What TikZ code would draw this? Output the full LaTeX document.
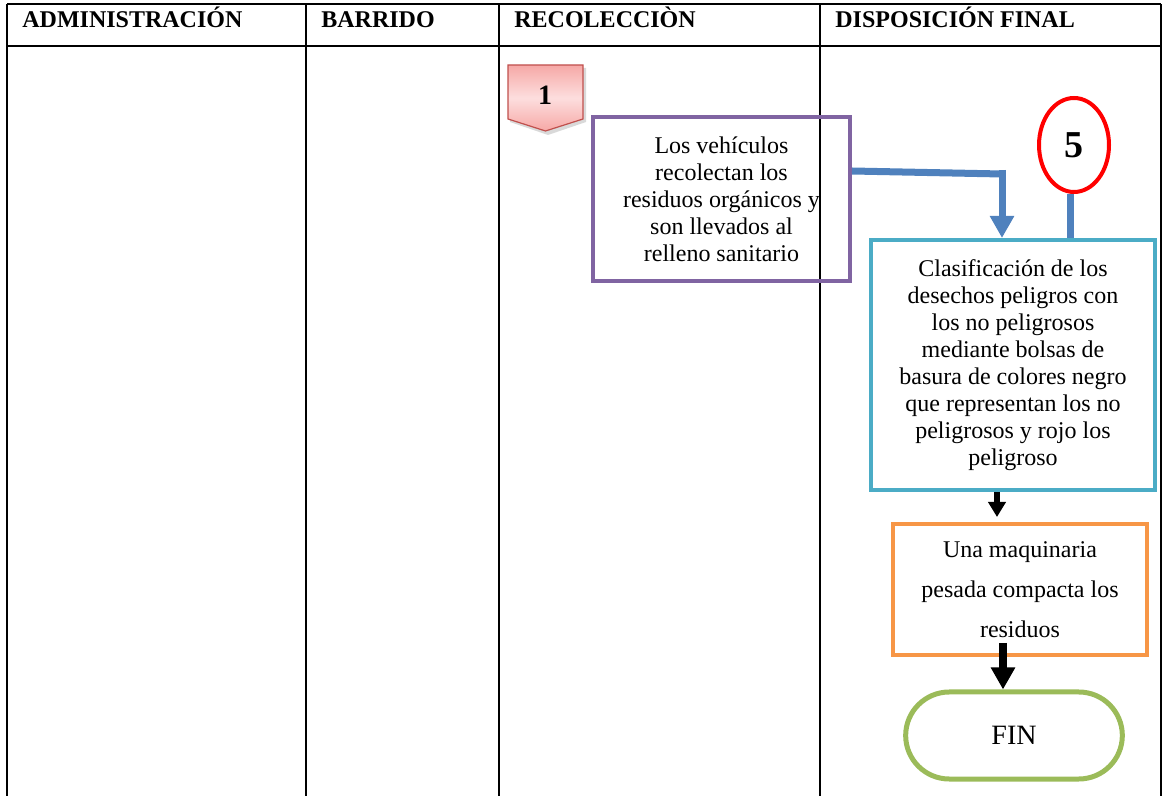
\documentclass[tikz,border=0pt]{standalone}
\usepackage{fontspec}
\setmainfont{Liberation Serif}
\usetikzlibrary{arrows.meta,shapes.geometric,shapes.misc}
\definecolor{morado}{RGB}{128,100,162}
\definecolor{azulflecha}{RGB}{79,129,189}
\definecolor{celeste}{RGB}{75,172,198}
\definecolor{naranja}{RGB}{247,150,70}
\definecolor{verde}{RGB}{155,187,89}
\definecolor{rojoborde}{RGB}{192,80,77}
\definecolor{rosaclaro}{RGB}{253,222,222}
\definecolor{rosa}{RGB}{246,168,166}
\begin{document}
\begin{tikzpicture}[x=0.5pt,y=-0.5pt,
  caja/.style={draw, line width=2pt, align=center, inner sep=0pt, font=\fontsize{12}{13.5}\selectfont},
  titulo/.style={anchor=base west, inner sep=0pt, font=\fontsize{12}{14}\selectfont\bfseries},
  conector/.style={azulflecha, line width=3.5pt},
  flecha/.style={-{Triangle[width=8.5pt,length=7.5pt]}, line width=3pt}]
\useasboundingbox (0,0) rectangle (1163,796);

% Dibujar la tabla
\draw[line width=1pt] (7,4) -- (1161,4);
\draw[line width=1pt] (7,46) -- (1161,46);
\foreach \x in {7,306,499,820,1161}
  \draw[line width=1pt] (\x,4) -- (\x,796);

% Titulos de las columnas
\node[titulo] (adm) at (22,28) {ADMINISTRACIÓN};
\node[titulo] (bar) at (321,28) {BARRIDO};
\node[titulo] (rec) at (514,28) {RECOLECCIÒN};
\node[titulo] (dis) at (835,28) {DISPOSICIÓN FINAL};

% Conector 1
\fill[black, opacity=0.15] (510,68) -- (586,68) -- (586,122) -- (548,135) -- (510,122) -- cycle;
\shade[top color=rosa, bottom color=rosa, middle color=rosaclaro, draw=rojoborde, line width=0.6pt]
  (508,65) -- (583,65) -- (583,119) -- (545.5,131) -- (508,119) -- cycle;
\node[font=\fontsize{14}{16}\selectfont\bfseries] (uno) at (545,95) {1};

% Caja de los vehiculos
\node[caja, draw=morado, minimum width=128.5pt, minimum height=82pt] (veh) at (721.5,199)
  {Los vehículos\\ recolectan los\\ residuos orgánicos y\\ son llevados al\\ relleno sanitario};

% Conector 5
\node[ellipse, draw=red, line width=2pt, inner sep=0pt, minimum width=35pt, minimum height=47pt,
  font=\fontsize{19}{20}\selectfont\bfseries] (cinco) at (1074,145) {5};

% Caja de clasificacion
\node[caja, draw=celeste, minimum width=142pt, minimum height=125pt] (clas) at (1013,365)
  {Clasificación de los\\ desechos peligros con\\ los no peligrosos\\ mediante bolsas de\\ basura de colores negro\\ que representan los no\\ peligrosos y rojo los\\ peligroso};

% Caja de la maquinaria
\node[caja, draw=naranja, minimum width=127pt, minimum height=65.5pt, font=\fontsize{12}{20}\selectfont] (maq) at (1020,589.5)
  {Una maquinaria\\ pesada compacta los\\ residuos};

% Fin
\node[rounded rectangle, draw=verde, line width=2.5pt, minimum width=115pt, minimum height=43.5pt,
  font=\fontsize{14}{16}\selectfont] (fin) at (1014,735.5) {FIN};

% Flechas azules
\coordinate (e1) at ([yshift=14pt]veh.east);
\coordinate (e2) at (1002,174);
\draw[conector] (e1) -- (e2);
\draw[conector, -{Triangle[width=11.5pt,length=11pt]}] ([yshift=2pt]e2) -- (e2 |- clas.north);
\coordinate (l5) at ([xshift=-2pt]cinco.south);
\draw[conector] (l5) -- (l5 |- clas.north);

% Flechas negras
\coordinate (a1) at (997,0);
\draw[flecha] (clas.south -| a1) -- ([yshift=2.5pt]maq.north -| a1);
\coordinate (a2) at (1003,643);
\draw[line width=4pt, -{Triangle[width=11.5pt,length=11pt]}] (a2) -- (fin.north -| a2);
\end{tikzpicture}
\end{document}
